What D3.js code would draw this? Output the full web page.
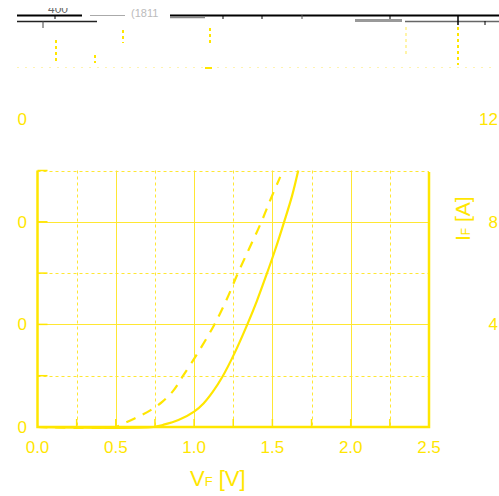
<!DOCTYPE html>
<html>
<head>
<meta charset="utf-8">
<script src="https://cdn.jsdelivr.net/npm/d3@7"></script>
<style>
  body { margin: 0; background: #fff; }
  text { font-family: "Liberation Sans", Arial, sans-serif; }
</style>
</head>
<body>
<svg id="chart" width="499" height="496"></svg>
<script>
// forward characteristic
var vf_solid = [0, 0.74, 0.80, 0.90, 1.00, 1.06, 1.12, 1.18, 1.26, 1.34, 1.40, 1.46, 1.52, 1.575, 1.625, 1.665];
var if_solid = [0, 0, 0.08, 0.27, 0.60, 0.92, 1.38, 1.95, 2.90, 4.0, 4.9, 5.9, 6.95, 8.0, 9.0, 10.0];
var vf_dash  = [0, 0.5, 0.53, 0.62, 0.72, 0.80, 0.865, 0.93, 1.03, 1.13, 1.21, 1.28, 1.355, 1.43, 1.49, 1.55];
var if_dash  = [0, 0, 0.08, 0.33, 0.65, 1.0, 1.4, 2.0, 2.95, 4.0, 5.0, 6.0, 7.0, 8.0, 8.9, 9.75];

var x_ticks = [0, 0.5, 1.0, 1.5, 2.0, 2.5];
var x_minor = [0.25, 0.5, 0.75, 1.0, 1.25, 1.5, 1.75, 2.0, 2.25];
var y_grid = [2, 4, 6, 8, 10];
var left_ticks = [0, 4, 8, 12];
var left_labels = ["0", "0", "0", "0"];
var right_ticks = [4, 8, 12];

var yellow = "#ffe600",
    grid_col = "#ffe733";

var svg = d3.select("#chart");
svg.append("rect").attr("width", 499).attr("height", 496).attr("fill", "#fff");

var x_scale = d3.scaleLinear().domain([0, 2.5]).range([37.5, 429]);
var y_scale = d3.scaleLinear().domain([0, 10]).range([427, 170.5]);

//top strip - leftover scraps of a cut-off panel
var top_g = svg.append("g");
var scraps = [
    [17, 15.5, 82, 15.5, "#000", 2],
    [170, 15.5, 499, 15.5, "#000", 2],
    [17, 21.5, 97, 21.5, "#222", 1.5],
    [90, 15.5, 125, 15.5, "#aaa", 1],
    [170, 17.5, 205, 17.5, "#888", 1.5],
    [355, 20.5, 402, 20.5, "#999", 3],
    [405, 21.5, 499, 21.5, "#666", 1.5],
    [55, 15, 55, 19, "#000", 1],
    [43, 21, 43, 28, "#444", 1],
    [223, 15, 223, 19, "#000", 1],
    [262, 15, 262, 19, "#000", 1],
    [302, 15, 302, 19, "#555", 1],
    [390, 15, 390, 19, "#000", 1],
    [458, 15, 458, 25, "#000", 1.5],
    [485, 21, 485, 25, "#000", 1]
];
top_g.selectAll("line").data(scraps).enter().append("line")
    .attr("x1", d => d[0]).attr("y1", d => d[1])
    .attr("x2", d => d[2]).attr("y2", d => d[3])
    .attr("stroke", d => d[4]).attr("stroke-width", d => d[5]);

svg.append("defs").append("clipPath").attr("id", "topclip")
    .append("rect").attr("x", 0).attr("y", 8).attr("width", 499).attr("height", 20);
top_g.append("text").attr("clip-path", "url(#topclip)")
    .attr("x", 48).attr("y", 13).attr("font-size", 12).attr("fill", "#666").text("400");
top_g.append("text").attr("clip-path", "url(#topclip)")
    .attr("x", 131).attr("y", 17).attr("font-size", 11).attr("fill", "#bbb").text("(1811");

var y_scraps = [
    [123, 30, 123, 43, yellow], [210, 28, 210, 43, yellow], [458, 27, 458, 65, yellow],
    [406, 27, 406, 55, "#fff4a8"], [56, 40, 56, 63, yellow], [95, 55, 95, 63, yellow]
];
top_g.selectAll(".yscrap").data(y_scraps).enter().append("line")
    .attr("class", "yscrap")
    .attr("x1", d => d[0]).attr("y1", d => d[1])
    .attr("x2", d => d[2]).attr("y2", d => d[3])
    .attr("stroke", d => d[4]).attr("stroke-width", 2)
    .attr("stroke-dasharray", "3,3");
top_g.append("line").attr("x1", 17).attr("x2", 495).attr("y1", 67.5).attr("y2", 67.5)
    .attr("stroke", "#fff3b0").attr("stroke-width", 1).attr("stroke-dasharray", "2,6");
top_g.append("line").attr("x1", 205).attr("x2", 212).attr("y1", 68).attr("y2", 68)
    .attr("stroke", yellow).attr("stroke-width", 2);

//grid
var grid = svg.append("g");
grid.selectAll(".vg").data(x_minor).enter().append("line")
    .attr("class", "vg")
    .attr("x1", d => Math.round(x_scale(d)) + 0.5).attr("x2", d => Math.round(x_scale(d)) + 0.5)
    .attr("y1", y_scale(10)).attr("y2", y_scale(0))
    .attr("stroke", grid_col).attr("stroke-width", 1)
    .attr("stroke-dasharray", d => (d * 2) % 1 === 0 ? null : "3,3");
grid.selectAll(".hg").data(y_grid).enter().append("line")
    .attr("class", "hg")
    .attr("y1", d => Math.round(y_scale(d)) + 0.5).attr("y2", d => Math.round(y_scale(d)) + 0.5)
    .attr("x1", x_scale(0)).attr("x2", x_scale(2.5))
    .attr("stroke", grid_col).attr("stroke-width", 1)
    .attr("stroke-dasharray", d => d % 4 === 0 ? null : "3,3");

//ticks inside the frame
grid.selectAll(".bt").data(x_minor.concat([2.5])).enter().append("line")
    .attr("x1", d => x_scale(d)).attr("x2", d => x_scale(d))
    .attr("y1", y_scale(0)).attr("y2", y_scale(0) - 8)
    .attr("stroke", yellow).attr("stroke-width", 1.5);
grid.selectAll(".lt").data(y_grid).enter().append("line")
    .attr("y1", d => y_scale(d)).attr("y2", d => y_scale(d))
    .attr("x1", x_scale(0)).attr("x2", x_scale(0) + 10)
    .attr("stroke", yellow).attr("stroke-width", 1.5);

//frame (no solid top)
svg.append("path")
    .attr("d", "M" + x_scale(0) + "," + y_scale(10) + "V" + y_scale(0) + "H" + x_scale(2.5) + "V" + (y_scale(10) + 1.5))
    .attr("fill", "none").attr("stroke", yellow).attr("stroke-width", 2.5);

//curves
var line = d3.line()
    .x(d => x_scale(d[0]))
    .y(d => y_scale(d[1]))
    .curve(d3.curveCatmullRom.alpha(0.5));

svg.append("path")
    .datum(d3.zip(vf_solid, if_solid))
    .attr("d", line)
    .attr("fill", "none").attr("stroke", yellow).attr("stroke-width", 2.2);

svg.append("path")
    .datum(d3.zip(vf_dash, if_dash))
    .attr("d", line)
    .attr("fill", "none").attr("stroke", yellow).attr("stroke-width", 2.2)
    .attr("stroke-dasharray", "10,8");

//labels
svg.selectAll(".xl").data(x_ticks).enter().append("text")
    .attr("x", d => x_scale(d)).attr("y", 453)
    .attr("text-anchor", "middle").attr("font-size", 17).attr("fill", yellow)
    .text(d => d.toFixed(1));

svg.selectAll(".ll").data(left_ticks).enter().append("text")
    .attr("x", 27).attr("y", d => y_scale(d) + 6)
    .attr("text-anchor", "end").attr("font-size", 17).attr("fill", yellow)
    .text((d, i) => left_labels[i]);

svg.selectAll(".rl").data(right_ticks).enter().append("text")
    .attr("x", 498).attr("y", d => y_scale(d) + 6)
    .attr("text-anchor", "end").attr("font-size", 17).attr("fill", yellow)
    .text(d => d);

var xt = svg.append("text").attr("x", 190).attr("y", 486)
    .attr("font-size", 22).attr("fill", yellow);
xt.append("tspan").text("V");
xt.append("tspan").attr("font-size", 13).text("F");
xt.append("tspan").text(" [V]");

var yt = svg.append("text")
    .attr("transform", "translate(470,241) rotate(-90)")
    .attr("font-size", 21).attr("fill", yellow);
yt.append("tspan").text("I");
yt.append("tspan").attr("font-size", 12).text("F");
yt.append("tspan").text(" [A]");
</script>
</body>
</html>
